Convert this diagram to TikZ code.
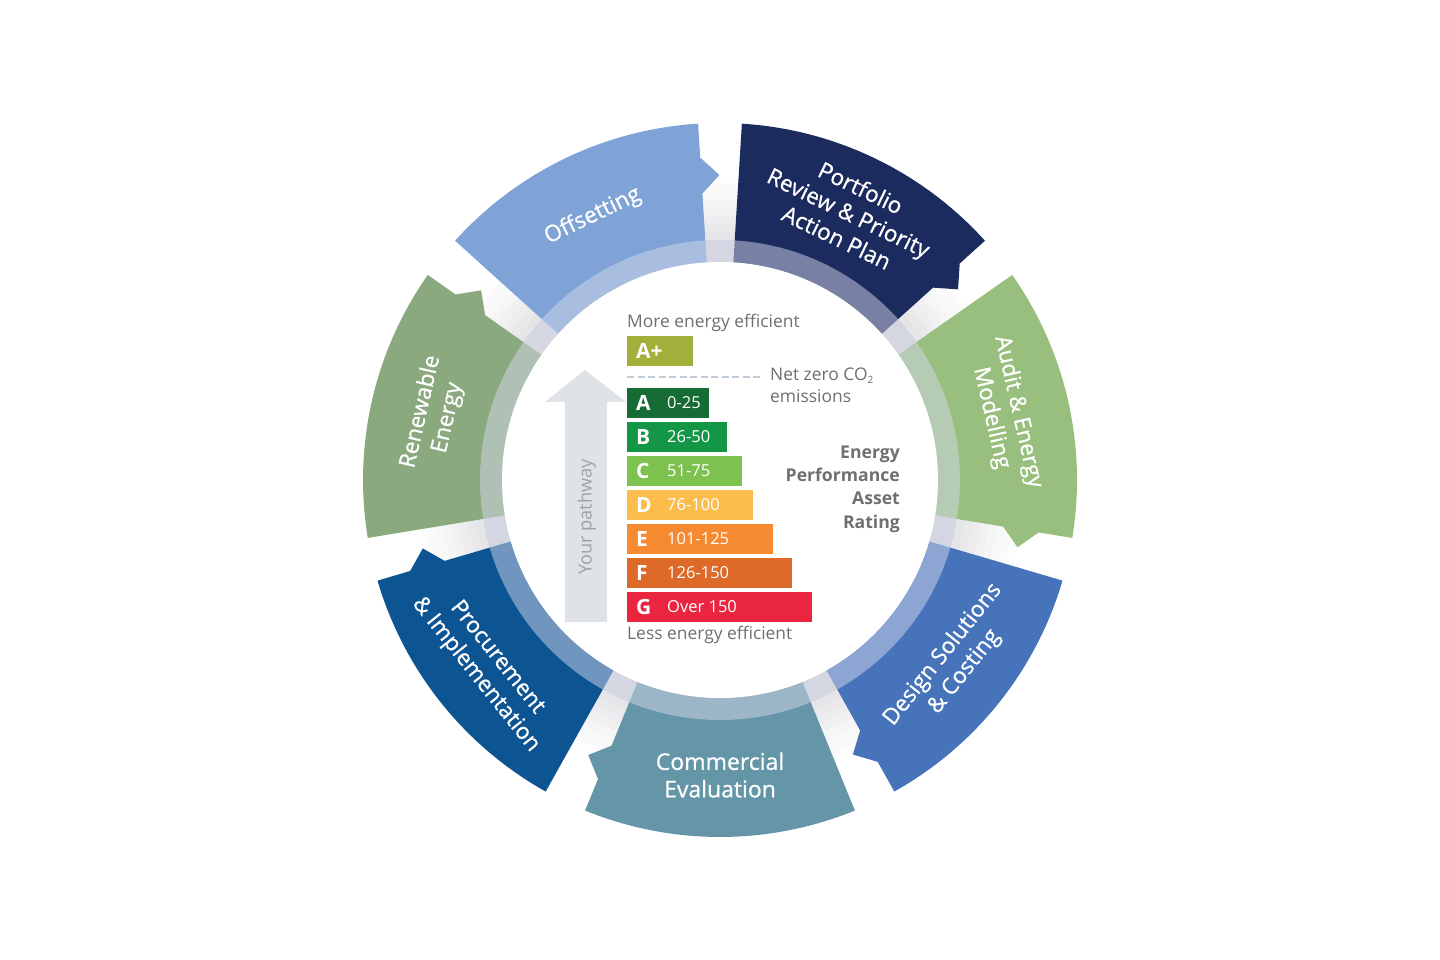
\documentclass[tikz,border=0pt]{standalone}
\usepackage{fontspec}
\setmainfont{Open Sans}
\newfontfamily\labfont{Open Sans}[FakeBold=0.7]
\definecolor{cOff}{HTML}{7FA3D6}
\definecolor{cPort}{HTML}{1C2B5E}
\definecolor{cAudit}{HTML}{98BF7D}
\definecolor{cDesign}{HTML}{4673BA}
\definecolor{cComm}{HTML}{6596A7}
\definecolor{cProc}{HTML}{0D5493}
\definecolor{cRen}{HTML}{8BA97F}
\definecolor{gapc}{HTML}{CFD0D4}
\definecolor{bandc}{HTML}{D4D7EA}
\definecolor{txtgray}{HTML}{6D6F72}
\definecolor{pathgray}{HTML}{9DA2A7}
\definecolor{arrowc}{HTML}{DFE3E8}
\definecolor{dashc}{HTML}{C2CCD6}
\definecolor{cAp}{HTML}{A2AF3B}
\definecolor{cA}{HTML}{176B35}
\definecolor{cB}{HTML}{149647}
\definecolor{cC}{HTML}{7DC24E}
\definecolor{cD}{HTML}{FDBD4A}
\definecolor{cE}{HTML}{F58A30}
\definecolor{cF}{HTML}{DE6A2A}
\definecolor{cG}{HTML}{E9253F}
\newcommand\segshape[2]{%
  \pgfmathsetmacro\aA{#1+22.2}%
  \pgfmathsetmacro\aB{#1-22.2}%
  \pgfmathsetmacro\aT{#1-25.6}%
  \fill[#2] (\aA:218) -- (\aA:357) arc[start angle=\aA, end angle=\aB, radius=357]
    -- (\aB:323) -- (\aT:305) -- (\aB:287) -- (\aB:218)
    arc[start angle=\aB, end angle=\aA, radius=218] -- cycle;}
\tikzset{
  seglabel/.style={text=white, align=center, font=\labfont\fontsize{22.5}{27.5}\selectfont, inner sep=0pt},
  grtext/.style={text=txtgray, font=\fontsize{17.4}{21}\selectfont, inner sep=0pt},
  ratingtext/.style={text=txtgray, align=right, font=\bfseries\fontsize{17.6}{23.3}\selectfont, inner sep=0pt},
  bar/.style={anchor=south west, minimum height=30pt, inner sep=0pt, outer sep=0pt},
  barletter/.style={text=white, font=\bfseries\fontsize{21}{24}\selectfont, anchor=west, inner sep=0pt},
  barnum/.style={text=white, font=\fontsize{16.5}{20}\selectfont, anchor=west, inner sep=0pt},
}
\begin{document}
\begin{tikzpicture}[x=1pt,y=1pt]
\useasboundingbox (0,0) rectangle (1440,960);
\fill[white] (0,0) rectangle (1440,960);
\begin{scope}[shift={(720,480)}]
  % soft grey behind the gaps
  \foreach \r/\p in {304/4,296/10,288/16,280/22,272/30,264/38,256/46,248/54,240/62}
    {\fill[gapc!\p!white] (0,0) circle (\r);}
  \fill[gapc!85!white] (0,0) circle (240);
  % segments
  \segshape{-90}{cComm}
  \segshape{-38.571}{cDesign}
  \segshape{12.857}{cAudit}
  \segshape{64.286}{cPort}
  \segshape{115.714}{cOff}
  \segshape{167.143}{cRen}
  \segshape{218.571}{cProc}
  % translucent ring
  \fill[bandc, opacity=0.5, even odd rule] (0,0) circle (240) (0,0) circle (218);
  \fill[white] (0,0) circle (218);
  % segment labels
  \node[seglabel, rotate=25.714] (off) at (115.714:293) {Offsetting};
  \node[seglabel, rotate=-25.714] (port) at (64.286:297) {Portfolio\\Review \& Priority\\Action Plan};
  \node[seglabel, rotate=-77.143] (audit) at (12.857:292) {Audit \& Energy\\Modelling};
  \node[seglabel, rotate=51.429] (design) at (-38.1:297) {Design Solutions\\\& Costing};
  \node[seglabel, font=\labfont\fontsize{23}{27.5}\selectfont] (comm) at (-90:295) {Commercial\\Evaluation};
  \node[seglabel, rotate=-51.429] (proc) at (218.571:299) {Procurement\\\& Implementation};
  \node[seglabel, rotate=77.143] (ren) at (167.143:293) {Renewable\\Energy};
\end{scope}
% pathway arrow
\fill[arrowc] (565,338) -- (565,558) -- (545,558) -- (585,590) -- (626,558) -- (607,558) -- (607,338) -- cycle;
\node[text=pathgray, font=\fontsize{18.2}{20}\selectfont, rotate=90, inner sep=0pt] (path) at (587,443) {Your pathway};
% headings
\node[grtext, anchor=base west] (more) at (627,632) {More energy efficient};
\node[grtext, anchor=base west] (less) at (627,320) {Less energy efficient};
% A+
\node[bar, fill=cAp, minimum width=66pt] (barAp) at (627,594) {};
\node[barletter] (lAp) at ([xshift=9pt]barAp.west) {A+};
% net zero line
\coordinate (dl) at (627,583);
\coordinate (dr) at (760,583);
\draw[dashc, line width=2.8pt, dash pattern=on 7pt off 3.5pt] (dl) -- (dr);
\node[grtext, anchor=base west] (nz) at (770,579) {Net zero CO\raisebox{-3pt}{\fontsize{10}{10}\selectfont 2}};
\node[grtext, anchor=base west] (em) at (770,557) {emissions};
% bars
\foreach \n/\c/\w/\y/\t in {A/cA/82/542/0-25, B/cB/100/508/26-50, C/cC/115/474/51-75, D/cD/126/440/76-100, E/cE/146/406/101-125, F/cF/165/372/126-150, G/cG/185/338/Over 150}{
  \node[bar, fill=\c, minimum width=\w pt] (bar\n) at (627,\y) {};
  \node[barletter] (l\n) at ([xshift=9pt]bar\n.west) {\n};
  \node[barnum] (n\n) at ([xshift=40pt]bar\n.west) {\t};
}
\node[ratingtext, anchor=east] (epar) at (900,471) {Energy\\Performance\\Asset\\Rating};
\end{tikzpicture}
\end{document}
